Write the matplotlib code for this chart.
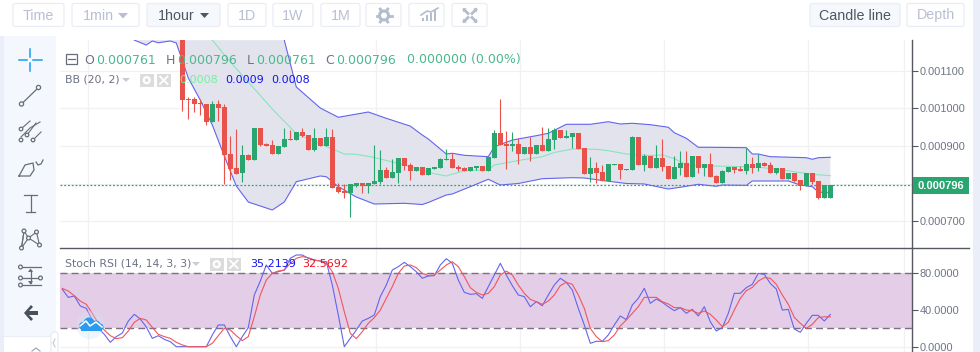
import numpy as np
import matplotlib
matplotlib.use('Agg')
import matplotlib.pyplot as plt
from matplotlib.patches import FancyBboxPatch, Rectangle, Circle

# prices in units of 1e-6, first candle is index 0
opens = [1250,1024,1024,1014.3,1011.6,964,1012,1003.7,879,841.9,827.7,876.4,863,948,905.5,902.9,879,897.6,918.8,916,
         937.4,929.4,889.6,921.4,900.2,924,791.5,780.9,775.6,794.1,802,794,799.4,804.7,836.6,815.3,828.6,868.4,849.8,834,
         844.6,823.3,839.2,841.9,863.1,865.8,844.6,841.9,834,841.9,847.2,834,868.4,934.7,905.6,900.3,905.6,879,897.6,879,
         902.9,887,916.2,942.7,921.5,924.1,934.7,895,826,841.9,831.3,807.4,849.9,852.5,836.6,836.6,924.1,849.9,873.7,841.9,
         868.4,847.2,812.7,841.9,855.1,818,873.7,841.9,852.5,820.7,802.1,831.3,844.5,839.2,833.9,852.5,841.9,855.1,849.8,828.6,
         841.9,812.7,828.6,810,794.1,828.6,807.4,761,761]
closes = [1022.2,1022,1011.6,1010.7,963.9,1012,1001,876.4,839.2,826,876.4,863.1,948,902,901,879,900.2,918.8,917,937.4,
          926.8,889.6,921.4,900.2,924,788.8,778.2,775.6,799.4,802.1,795,802,807.4,836.6,815.3,831.3,868.4,847.2,833.9,844.5,
          823.3,841.9,844.6,865.8,865.8,841.9,839.2,834,844.6,847.2,834,871,934.7,902.9,900.3,905.6,879,897.6,879,902.9,
          887,918.8,942.7,921.5,926.8,934.7,892.3,826,841.9,828.6,807.4,852.5,852.5,836.6,839.2,924.1,849.9,873.7,841.9,868.4,
          844.6,812.7,844.5,855.1,818,873.7,841.9,852.5,818,802.1,833.9,844.5,836.6,833.9,852.5,841.9,855.1,847.2,828.6,841.9,
          812.7,828.6,807.4,794.1,828.6,804.7,761,796,796]
highs = [1260,1029.3,1029,1024,1012,1020.5,1022,1011.6,926.8,945.3,902.9,879,948,948,909,916,900.2,948,942.7,937.4,
         948,929.4,948,921.4,948,945,801.2,799.4,799.4,802,802,802,902.9,889.6,844.5,865.7,868.4,868.4,855,844.5,
         844.6,841.9,844.6,868.4,892.3,881.7,849.9,844.6,844.6,847.2,847.2,871,942.7,1025,940,937.4,921.5,897.6,924.1,902.9,
         950.7,948,948,942.7,942.7,934.7,934.7,895,871,857.8,849.9,852.5,852.5,852.5,839.2,926.8,924.1,879,873.7,902.9,
         918.8,847.2,873.7,887,887,873.7,873.7,852.5,881.7,823.3,836.6,844.5,844.5,847.2,894.9,871,879,857.8,857.8,841.9,
         841.9,828.6,828.6,810,828.6,828.6,807.4,796,796]
lows = [993.9,972.7,990.4,982.5,956.8,964,965.6,799.4,810,826,804.7,863,863,900.2,900,879,879,897.6,916,916,
        924.1,889.6,887,900.2,900,789,775.6,762.3,712.8,791.5,775.6,775.6,799,799.4,815,815,802,836.6,810,834,
        823.3,823.3,839.2,841.9,863.1,841.9,834,834,834,836.6,834,834,868.4,902.9,839.2,887,852.5,879,860.5,879,
        887,887,892.3,921.5,921.5,895,892.3,826,804.8,802.1,807.4,807.4,849.9,812.7,836.6,836.6,849.9,834,841.9,841.9,
        834,812.7,812.7,823.3,818,818,828.6,820.7,818,802.1,802.1,831.3,828.6,833.9,826,828.6,833.9,847.2,828.6,826,
        812.7,812.7,804.7,783.5,794,799.4,759.6,761,761]

upper_x = [17,19,23,26,31,34,38,40,41,44,45,47,51,52,55,59,61,64,68,71,73,75,78,81,82,84,86,88,94,95,96,98,104,105,106,108]
upper = [1181,1056.8,1001,976.4,990.4,973.7,953,929.4,918.8,879,881,875.6,871.9,898.4,916,927.6,934,957.8,957.8,964.7,958.6,
         960.5,956.8,950,935.5,920.7,896.8,896.8,895.8,879,879,871.9,869.2,865,869.2,870.3]
lower_x = [-8,-6,-5,-4,-2,-1,1,3,5,7,9,11,15,17,19,23,24,25,26,29,32,37,40,41,44,45,48,51,53,56,60,65,67,70,74,77,81,83,86,
           89,90,94,95,98,101,103,105,106,108]
lower = [1181,1168,1178.8,1174,1178.8,1173.5,1080.6,1022,956,873.7,794,751.7,730.5,751.7,805.6,820.7,818.8,805.6,792.3,765,
         746.4,748.3,745,750.4,770.3,773,792.3,812,796.8,800.8,813.5,816.2,815.4,808.8,800.8,799.5,786.2,790.7,798.7,
         793.4,796.8,796,807.4,807.4,807.4,796.8,792.3,778.2,775.6]
mid_x = [5,8,11,15,19,25,27,29,32,36,40,41,44,47,51,52,56,60,62,65,69,71,74,78,80,82,84,88,94,96,99,102,105,108]
mid = [1181,1123,1070,998.4,933,892.3,879,878.2,869.8,853.8,836.6,830,820.7,834.7,836.6,849.9,861.8,871.9,883,892.3,891.5,
       887.8,879,875,876.4,867,849.9,847.2,845.4,843.8,839.3,832,825.2,821.5]

# stoch rsi, first point is candle index -20
stoch_k = [62.6,53.8,55.3,44.4,41.8,29.1,20,13.5,4.8,11,14.9,28,35.3,30.2,21.5,9.1,12,8,5.5,0,0,0,0,0,0,
           12.8,23.7,23.7,11,0,11,20.8,56.4,71.6,89.1,80,81.8,83.6,96.4,100,100,96.4,94.5,93.4,92.7,67.3,34.6,0,9.1,18.2,
           28,30.9,34.6,54.6,67.3,83.6,87.3,92,87.3,81.8,74.6,77.1,77.5,89.1,96,90.9,72.7,59.3,
           57.1,57.8,52.7,65.5,78.2,90.9,78.2,66.6,56.4,54.6,43.6,49.1,44.7,56.4,67.3,74.6,70.2,61.8,41.8,23.7,3.7,5.9,5.9,
           12.8,23.7,33.5,29.5,45.5,52.7,63.7,47.3,52,48.4,43.6,39.3,42.6,36.4,40.7,33.5,43.6,27.3,17.1,20.8,36.4,58.2,58.2,
           64.4,68,80,78.9,69.1,62.9,40,40.7,19.3,15.7,25.5,34.2,34.2,28,35.2]
stoch_d = [63.6,60.7,55.6,49.8,46.2,36.4,25.5,18.2,12,8.8,9.8,17.1,26.6,30.9,29.1,21.1,13.5,11,9.1,4.8,1.9,0,0,0,0,
           3.7,12,20,18.2,12,6.6,11,32.7,56.4,72.7,80,82.5,83.6,90.9,96.4,98.2,97.1,94.5,93.4,90.9,81.8,63.6,38.2,14.6,8.8,
           16.4,25.5,31.7,40,52.7,65.5,80,88,89.1,86.2,80,77.5,78.2,83.6,89.1,92.7,87.3,76.4,
           64.4,59.3,56.4,58.2,65.5,78.2,82.5,78.2,67.3,58.2,51.6,49.1,46.2,49.8,56.4,66.6,70.2,68,56.4,41.8,20,11,5.5,6.6,
           12.8,22.6,29.1,36.4,43.6,53.8,53.8,53.8,49.1,46.6,42.6,42.6,40,39.3,36.4,38.9,35.3,29.1,21.8,26.6,40,52.7,61.1,
           64.7,71.6,75.3,74.6,68,56.4,46.2,32,25.5,20,24.4,31.7,32.6,32.6]

price_ticks = [700,800,900,1000,1100]
price_labels = ['0.000700','','0.000900','0.001000','0.001100']
stoch_ticks = [0,40,80]
stoch_labels = ['0.0000','40.0000','80.0000']
vgrid = [-15.8,8.2,32.2,56.2,80.2,104.2,120.2]
last_price = 796

RED = '#e9524a'
GREEN = '#29a56f'
BLUE = '#6464ee'
GRID = '#f1f1f4'
AXIS = '#55585f'
W, H = 980, 352

plt.rcParams['font.family'] = ['DejaVu Sans']
fig = plt.figure(figsize=(W/100, H/100), dpi=100, facecolor='white')


def px_axes(x0, y0, x1, y1):
    return fig.add_axes([x0/W, 1-y1/H, (x1-x0)/W, (y1-y0)/H])


def idx_lim(ax):
    ax.set_xlim((60-182.3)/6, (912-182.3)/6)


main = px_axes(60, 40, 912, 248)
idx_lim(main)
main.set_ylim(629.7, 1181.4)
main.set_yticks(price_ticks)
main.set_yticklabels(price_labels)

x = np.arange(len(opens))
o, c, hi, lo = map(np.array, (opens, closes, highs, lows))
cols = [GREEN if b >= a else RED for a, b in zip(o, c)]
main.fill(upper_x+lower_x[::-1], upper+lower[::-1], color='#e3e3ee', lw=0, zorder=1)
main.plot(upper_x, upper, color=BLUE, lw=0.8, zorder=2)
main.plot(lower_x, lower, color=BLUE, lw=0.8, zorder=2)
main.plot(mid_x, mid, color='#85e6bb', lw=0.8, zorder=2)
main.vlines(x, lo, hi, colors=cols, lw=0.8, zorder=3)
main.bar(x, np.maximum(np.abs(c-o), 1.5), bottom=np.minimum(o, c), width=0.85, color=cols, lw=0, zorder=3)
main.axhline(last_price, color=GREEN, lw=0.9, ls=(0, (1.5, 1.5)), zorder=4)

sub = px_axes(60, 248, 912, 352)
idx_lim(sub)
sub.set_ylim((346.7-352)/0.917, (346.7-248)/0.917)
sub.set_yticks(stoch_ticks)
sub.set_yticklabels(stoch_labels)
sub.axhspan(20, 80, color='#e4cde6', lw=0, zorder=1)
sub.axhline(80, color='#7b6f80', lw=1.0, ls=(0, (5, 3)), zorder=2)
sub.axhline(20, color='#7b6f80', lw=1.0, ls=(0, (5, 3)), zorder=2)
sub.plot(np.arange(len(stoch_k))-20, stoch_k, color=BLUE, lw=0.8, zorder=3)
sub.plot(np.arange(len(stoch_d))-20, stoch_d, color='#f0565f', lw=0.8, zorder=3)

for ax in (main, sub):
    ax.set_xticks([])
    ax.yaxis.tick_right()
    ax.tick_params(axis='y', length=4, width=0.8, color=AXIS, labelcolor='#6f7585', labelsize=7.9, pad=1.5)
    for lab in ax.get_yticklabels():
        lab.set_family('Liberation Sans')
    for s in ('top', 'left', 'bottom'):
        ax.spines[s].set_visible(False)
    ax.spines['right'].set_color(AXIS)
    ax.spines['right'].set_linewidth(1.0)
    for t in ax.get_yticks():
        ax.axhline(t, color=GRID, lw=0.9, zorder=0)
    for v in vgrid:
        ax.axvline(v, color=GRID, lw=0.9, zorder=0)

# page furniture in pixel coordinates
ui = fig.add_axes([0, 0, 1, 1], zorder=5)
ui.set_xlim(0, W)
ui.set_ylim(H, 0)
ui.axis('off')
ui.patch.set_alpha(0)

ui.add_patch(Rectangle((0, 36), 4, H-36, color='#e9eef8', lw=0))
ui.add_patch(Rectangle((4, 36), 52, 300, color='#f4f7fe', lw=0))
ui.add_patch(Rectangle((973, 0), 7, H, color='#e9eef8', lw=0))
ui.plot([4, 50], [336, 336], color='#e9edf4', lw=0.8)
ui.plot([60, 969], [248.3, 248.3], color=AXIS, lw=1.0)


def button(x0, x1, label=None, active=False, size=10.3):
    ui.add_patch(FancyBboxPatch((x0+1, 3.5), x1-x0-2, 23, boxstyle='round,pad=0,rounding_size=2',
                                fc='#f5f8fd' if active else 'white', ec='#e9edf5', lw=0.9))
    if label:
        ui.text((x0+x1)/2, 15.5, label, ha='center', va='center', fontsize=size, family='Liberation Sans',
                color='#50555f' if active else '#b9bfd2')


button(12, 65, 'Time')
button(71, 140)
ui.text(83, 15.5, '1min', va='center', fontsize=10.3, family='Liberation Sans', color='#b9bfd2')
ui.fill([118, 128, 123], [13, 13, 18.5], color='#b9bfd2', lw=0)
button(146, 221, active=True)
ui.text(158, 15.5, '1hour', va='center', fontsize=10.3, family='Liberation Sans', color='#50555f')
ui.fill([200, 209, 204.5], [13, 13, 18], color='#50555f', lw=0)
button(227, 267, '1D')
button(272, 314, '1W')
button(320, 361, '1M')
button(365, 402)
button(408, 445)
button(451, 488)
button(809, 901, 'Candle line', active=True)
button(906, 965, 'Depth')

# gear, chart and expand icons
ico = '#b4bccf'
ui.add_patch(Circle((384, 15.5), 4.5, fc='none', ec=ico, lw=2.2))
for a in np.arange(0, 360, 60):
    ui.plot([384+5*np.cos(np.radians(a)), 384+7.5*np.cos(np.radians(a))],
            [15.5+5*np.sin(np.radians(a)), 15.5+7.5*np.sin(np.radians(a))], color=ico, lw=2)
ui.bar([423, 427, 431, 435], [3, 6, 8, 11], bottom=[21-3, 21-6, 21-8, 21-11], width=2.5, color=ico, lw=0)
ui.plot([421, 427, 431, 438], [15, 11, 12, 8], color=ico, lw=1.2)
for sx, sy in ((-1, -1), (1, -1), (-1, 1), (1, 1)):
    ui.plot([470+sx*2, 470+sx*6], [15.5+sy*2, 15.5+sy*6], color=ico, lw=2)
    ui.fill([470+sx*7, 470+sx*3, 470+sx*7], [15.5+sy*7, 15.5+sy*7, 15.5+sy*3], color=ico, lw=0)

# left toolbar
tool = '#666c78'
ui.plot([30, 30], [49, 57], color='#1a9cf0', lw=1.1)
ui.plot([30, 30], [63, 71], color='#1a9cf0', lw=1.1)
ui.plot([19, 27], [60, 60], color='#1a9cf0', lw=1.1)
ui.plot([33, 42], [60, 60], color='#1a9cf0', lw=1.1)


def node(px, py, r=2.1):
    ui.add_patch(Circle((px, py), r, fc='#f4f7fe', ec=tool, lw=0.9, zorder=6))


ui.plot([21.5, 38.5], [104, 87.5], color=tool, lw=0.9)
node(21.5, 104)
node(38.5, 87.5)
ui.plot([21, 30, 40], [137, 128, 122], color=tool, lw=0.8)
for a, b, c2, d in ((21, 129, 30, 121), (27, 135, 36, 123), (33, 140, 41, 132)):
    ui.plot([a, c2], [b, d], color=tool, lw=0.8)
for a, b in ((21, 129), (21, 140), (27, 135), (33, 140)):
    node(a, b, 1.8)
ui.plot([19, 25, 33, 34, 30, 19], [176, 165, 163, 170, 176, 176], color=tool, lw=0.9)
ui.plot([36, 38, 41, 43], [162, 165, 164, 160], color=tool, lw=0.9)
ui.plot([24, 37], [195, 195], color=tool, lw=0.9)
ui.plot([30.5, 30.5], [195, 212], color=tool, lw=0.9)
ui.plot([26, 35], [212, 212], color=tool, lw=0.9)
net = [(21.5, 248), (24, 231), (28.5, 238), (36.5, 232), (39.5, 245), (28.5, 238), (21.5, 248)]
ui.plot(*zip(*net), color=tool, lw=0.8)
ui.plot([24, 21.5], [231, 248], color=tool, lw=0.8)
for p in net[:5]:
    node(p[0], p[1], 1.9)
for yy in (267, 285):
    ui.plot([22, 41], [yy, yy], color=tool, lw=0.9)
    node(20.5, yy, 1.9)
ui.plot([22, 39], [278, 278], color=tool, lw=0.9)
node(20.5, 278, 1.9)
node(40.5, 278, 1.9)
ui.plot([30.5, 30.5], [270, 283], color=tool, lw=0.9)
ui.fill([28, 33, 30.5], [272, 272, 268.5], color=tool, lw=0)
ui.fill([28, 33, 30.5], [281, 281, 284.5], color=tool, lw=0)
ui.fill([31, 24, 31, 33, 29, 38, 38, 29, 33], [305, 313, 321, 319, 315, 315, 311, 311, 307], color='#4a4f5c', lw=0)

# collapse tab and cloud mark
ui.add_patch(FancyBboxPatch((51, 332), 7, 24, boxstyle='round,pad=0,rounding_size=3', fc='white', ec='#e6e8ee', lw=0.8))
ui.plot([55, 53, 55], [339, 343, 347], color='#c3c8d0', lw=0.8)
ui.plot([32, 36, 40], [351, 348, 351], color='#a4a9b3', lw=0.9)
ui.add_patch(Circle((90, 325), 14, fc='#cfe4f7', ec='none', alpha=0.35))
for cx, cy, r in ((83, 326, 4), (89, 323, 5.5), (96, 325, 4.5), (100, 327, 3.5)):
    ui.add_patch(Circle((cx, cy), r, fc='#2a9bef', ec='none'))
ui.add_patch(Rectangle((81, 326), 21, 4.5, color='#2a9bef', lw=0))
ui.plot([80, 86, 90, 96, 102], [326, 321, 326, 322, 327], color='white', lw=1.1)

# ohlc legend
gray = '#6c7284'
val = '#4cb88e'
ui.add_patch(Rectangle((66, 54), 10.5, 10, fc='none', ec='#666c78', lw=0.9))
ui.plot([68, 74.5], [59, 59], color='#666c78', lw=0.9)
for tx, s, col in ((84, 'O', gray), (96, '0.000761', val), (166, 'H', gray), (177, '0.000796', val),
                   (247, 'L', gray), (256, '0.000761', val), (325, 'C', gray), (336, '0.000796', val),
                   (407, '0.000000 (0.00%)', val)):
    ui.text(tx, 60, s, va='center', fontsize=9, color=col)


def indicator(label, lx, ly, caret, box1, box2, values):
    ui.text(lx, ly, label, va='center', fontsize=7.8, color=gray)
    ui.fill([caret-4, caret+4, caret], [ly-2, ly-2, ly+2], color='#c8ccd6', lw=0)
    for bx in (box1, box2):
        ui.add_patch(Rectangle((bx, ly-6.5), 13.5, 13.5, color='#dcdcdc', lw=0))
    ui.plot([box2+3, box2+10.5], [ly-3.5, ly+4], color='white', lw=1.3)
    ui.plot([box2+3, box2+10.5], [ly+4, ly-3.5], color='white', lw=1.3)
    ui.add_patch(Circle((box1+6.7, ly+0.2), 3, fc='none', ec='white', lw=1.6))
    for tx, s, col in values:
        ui.text(tx, ly, s, va='center', fontsize=8, color=col)


indicator('BB (20, 2)', 65, 80, 126, 140, 157,
          ((179, '0.0008', '#6df59a'), (225, '0.0009', '#1414ee'), (271, '0.0008', '#1414ee')))
indicator('Stoch RSI (14, 14, 3, 3)', 65, 264, 196, 210, 227,
          ((250, '35.2139', '#1414ee'), (302, '32.5692', '#f01020')))

# last price tag
ui.add_patch(Rectangle((912.5, 177.3), 56.5, 16.7, color=GREEN, lw=0))
ui.text(940.5, 185.8, '0.000796', ha='center', va='center', fontsize=8, weight='bold',
        family='Liberation Sans', color='white')

fig.savefig('out.png', dpi=100)
